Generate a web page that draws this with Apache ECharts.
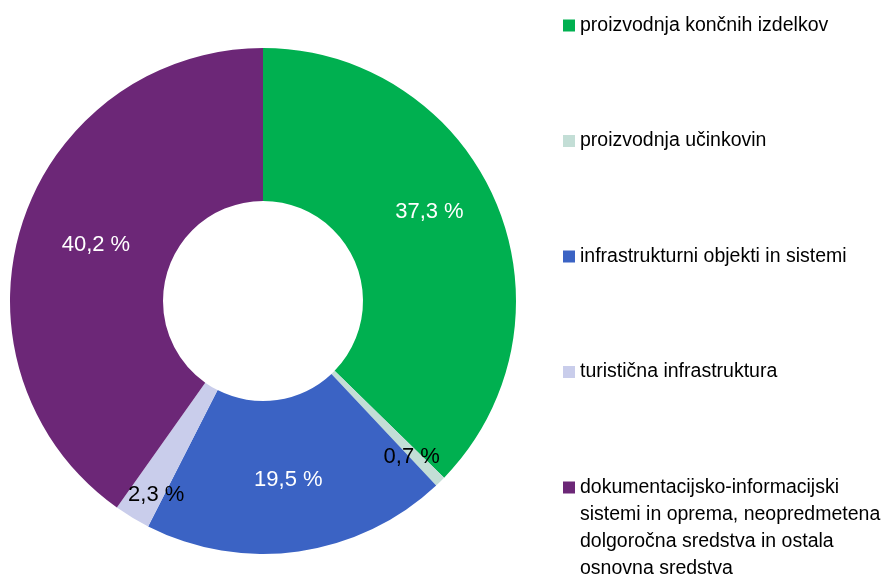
<!DOCTYPE html>
<html>
<head>
    <meta charset="utf-8">
    <title>ECharts</title>
    <script src="https://cdn.jsdelivr.net/npm/echarts@6/dist/echarts.min.js"></script>
</head>
<body style="margin:0">
    <div id="main" style="width: 885px;height:574px;"></div>
    <script type="text/javascript">
        var myChart = echarts.init(document.getElementById('main'));

        var categories = [
            'proizvodnja končnih izdelkov',
            'proizvodnja učinkovin',
            'infrastrukturni objekti in sistemi',
            'turistična infrastruktura',
            'dokumentacijsko-informacijski\nsistemi in oprema, neopredmetena\ndolgoročna sredstva in ostala\nosnovna sredstva'
        ];
        var shares = [37.3, 0.7, 19.5, 2.3, 40.2];

        var colors = ['#00B050', '#C3DED6', '#3B63C4', '#C9CDEB', '#6C2777'];
        var labelColors = ['#fff', '#000', '#fff', '#000', '#fff'];
        // label nudges, to sit where the original put them
        var labelShift = [[1, -19], [23, 28], [0, 1], [-14, 40], [4, -2]];
        var legendTops = [12, 127.5, 243, 358.5, 393];

        var font = "'Liberation Sans Narrow', 'Arial Narrow', 'Liberation Sans', sans-serif";

        option = {
            backgroundColor: '#fff',
            color: colors,
            legend: categories.map(function (name, i) {
                return {
                    orient: 'vertical',
                    left: 563,
                    top: legendTops[i],
                    padding: 0,
                    itemWidth: 12,
                    itemHeight: 12,
                    icon: 'rect',
                    selectedMode: false,
                    // multi-line entry: pad above so the first line sits on the marker
                    formatter: function (n) {
                        return n.indexOf('\n') >= 0 ? '\n\n\n' + n : n;
                    },
                    textStyle: { fontFamily: font, fontSize: 19.5, color: '#000', lineHeight: 27 },
                    data: [name]
                };
            }),
            series: [{
                type: 'pie',
                center: [263, 301],
                radius: [100, 253],
                startAngle: 90,
                clockwise: true,
                silent: true,
                label: {
                    show: true,
                    position: 'inside',
                    fontFamily: font,
                    fontSize: 22,
                    formatter: function (p) {
                        return p.value.toFixed(1).replace('.', ',') + ' %';
                    }
                },
                labelLine: { show: false },
                labelLayout: function (p) {
                    return { dx: labelShift[p.dataIndex][0], dy: labelShift[p.dataIndex][1] };
                },
                data: categories.map(function (name, i) {
                    return {
                        name: name,
                        value: shares[i],
                        label: { color: labelColors[i] }
                    };
                })
            }]
        };

        myChart.setOption(option);
    </script>
</body>
</html>
